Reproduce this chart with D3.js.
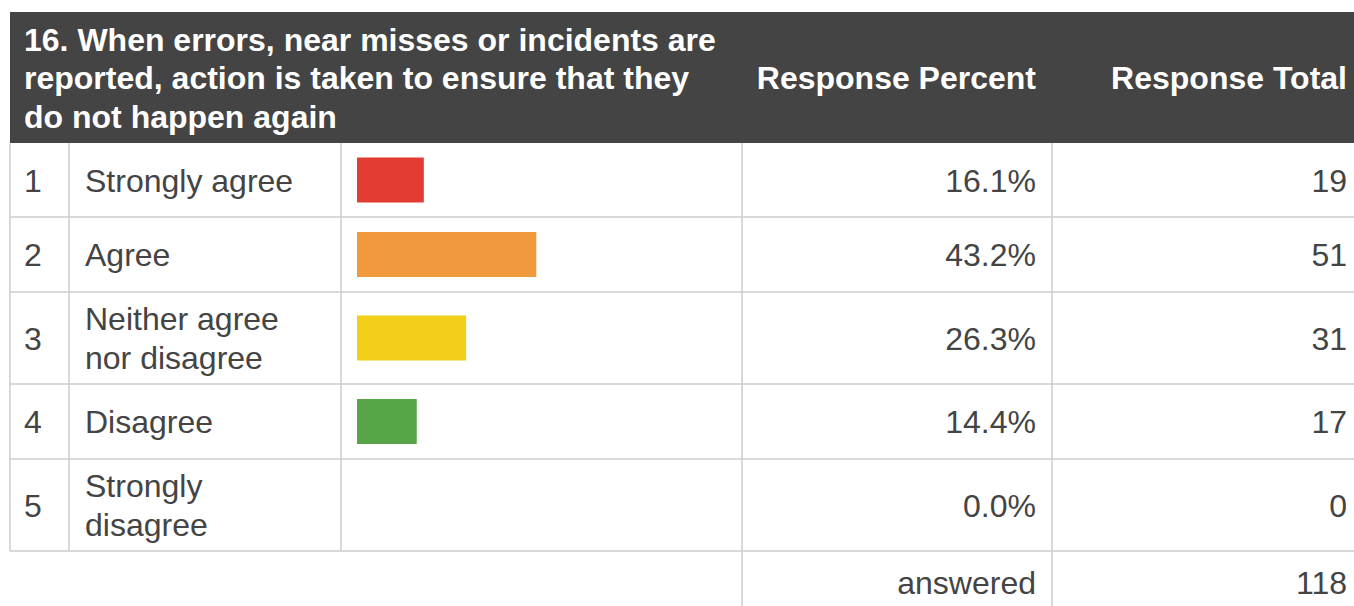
<!DOCTYPE html>
<html><head><meta charset="utf-8">
<script src="https://cdn.jsdelivr.net/npm/d3@7"></script>
<style>
html,body{margin:0;padding:0;background:#fff;overflow:hidden;}
svg{display:block;font-family:"Liberation Sans",Arial,sans-serif;}
</style></head>
<body><svg id="chart" width="1354" height="606"></svg>
<script>
const title = "16. When errors, near misses or incidents are reported, action is taken to ensure that they do not happen again";
const headers = ["Response Percent", "Response Total"];
const numbers = ["1", "2", "3", "4", "5"];
const categories = ["Strongly agree", "Agree", "Neither agree nor disagree", "Disagree", "Strongly disagree"];
const percents = [16.1, 43.2, 26.3, 14.4, 0.0];
const totals = [19, 51, 31, 17, 0];
const colors = ["#e33c32", "#f0993d", "#f3cf1a", "#57a546", "#6a6a6a"];
const answeredLabel = "answered";
const answeredTotal = 118;

const svg = d3.select("#chart");
const W = 1354;
const cols = [10, 69, 341, 742, 1052, 1360];
const headerTop = 12, headerBottom = 143;
const fs = 32, lh = 38.5;
const textColor = "#444";
const gridColor = "#cccccc";

const meas = svg.append("text").attr("font-size", fs).attr("visibility", "hidden");
function wrap(str, maxW, weight) {
  meas.attr("font-weight", weight || "normal");
  const words = str.split(" ");
  const lines = [];
  let cur = "";
  words.forEach(w => {
    const t = cur ? cur + " " + w : w;
    meas.text(t);
    if (meas.node().getComputedTextLength() > maxW && cur) { lines.push(cur); cur = w; }
    else cur = t;
  });
  if (cur) lines.push(cur);
  return lines;
}

// header
svg.append("rect").attr("x", cols[0]).attr("y", headerTop).attr("width", W - cols[0]).attr("height", headerBottom - headerTop)
  .attr("fill", "#444444");
const hMid = (headerTop + headerBottom) / 2;
const titleLines = wrap(title, 700, "bold");
const tt = svg.append("text").attr("font-size", fs).attr("font-weight", "bold").attr("fill", "#fff");
titleLines.forEach((l, i) => {
  tt.append("tspan").attr("x", 24)
    .attr("y", hMid + (i - (titleLines.length - 1) / 2) * lh + fs * 0.36).text(l);
});
const headerRight = [cols[4] - 16, 1347];
svg.selectAll("text.hdr").data(headers).join("text").attr("class", "hdr")
  .attr("x", (d, i) => headerRight[i])
  .attr("y", hMid + fs * 0.36)
  .attr("text-anchor", "end").attr("font-size", fs).attr("font-weight", "bold").attr("fill", "#fff").text(d => d);

// rows
const labelWrapW = 230;
const rowHeights = categories.map(c => wrap(c, labelWrapW).length > 1 ? 92 : 75);
rowHeights[0] = 74;
const rowTops = [];
let yy = headerBottom;
rowHeights.forEach(h => { rowTops.push(yy); yy += h; });
const tableBottom = yy;

const x = d3.scaleLinear().domain([0, 100]).range([0, 415]);

const rows = svg.selectAll("g.row").data(categories).join("g").attr("class", "row")
  .attr("transform", (d, i) => `translate(0,${rowTops[i]})`);

rows.append("text").attr("x", 24).attr("y", (d, i) => rowHeights[i] / 2 + fs * 0.36)
  .attr("font-size", fs).attr("fill", textColor).text((d, i) => numbers[i]);

rows.each(function (d, i) {
  const lines = wrap(d, labelWrapW);
  const t = d3.select(this).append("text").attr("font-size", fs).attr("fill", textColor);
  lines.forEach((l, j) => {
    t.append("tspan").attr("x", 85)
      .attr("y", rowHeights[i] / 2 + (j - (lines.length - 1) / 2) * lh + fs * 0.36).text(l);
  });
});

rows.filter((d, i) => percents[i] > 0).append("rect")
  .attr("x", 357).attr("y", (d, i) => rowHeights[i] / 2 - 22.5)
  .attr("width", (d, i) => x(percents[i])).attr("height", 45)
  .attr("fill", (d, i) => colors[i]);

rows.append("text").attr("x", cols[4] - 16).attr("y", (d, i) => rowHeights[i] / 2 + fs * 0.36)
  .attr("text-anchor", "end").attr("font-size", fs).attr("fill", textColor)
  .text((d, i) => percents[i].toFixed(1) + "%");
rows.append("text").attr("x", 1347).attr("y", (d, i) => rowHeights[i] / 2 + fs * 0.36)
  .attr("text-anchor", "end").attr("font-size", fs).attr("fill", textColor)
  .text((d, i) => totals[i]);

// grid lines
const g = svg.append("g").attr("stroke", gridColor).attr("stroke-width", 1.5);
rowTops.slice(1).concat([tableBottom]).forEach(y => {
  g.append("line").attr("x1", cols[0]).attr("x2", W).attr("y1", y).attr("y2", y);
});
cols.slice(0, 5).forEach((c, i) => {
  g.append("line").attr("x1", c).attr("x2", c).attr("y1", headerBottom).attr("y2", i >= 3 ? 606 : tableBottom);
});

// footer
const fMid = tableBottom + 31;
svg.append("text").attr("x", cols[4] - 16).attr("y", fMid + fs * 0.36).attr("text-anchor", "end")
  .attr("font-size", fs).attr("fill", textColor).text(answeredLabel);
svg.append("text").attr("x", 1347).attr("y", fMid + fs * 0.36).attr("text-anchor", "end")
  .attr("font-size", fs).attr("fill", textColor).text(answeredTotal);
meas.remove();
</script></body></html>
